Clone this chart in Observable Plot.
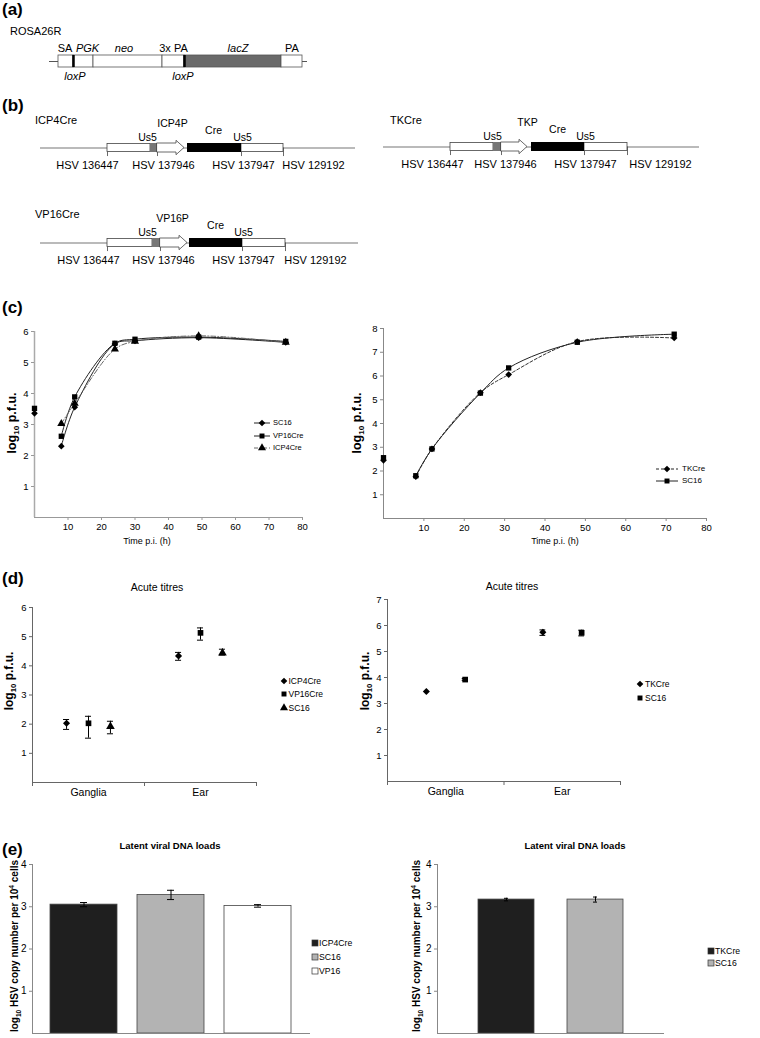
<!DOCTYPE html>
<html><head><meta charset="utf-8">
<script src="https://cdn.jsdelivr.net/npm/d3@7"></script>
<script src="https://cdn.jsdelivr.net/npm/@observablehq/plot@0.6"></script>
<style>
body{margin:0;background:#fff;}
#fig{position:relative;width:760px;height:1038px;overflow:hidden;background:#fff;font-family:"Liberation Sans",Arial,Helvetica,sans-serif;color:#000;}
.t{position:absolute;white-space:nowrap;line-height:1;}
.t sub,.t sup{font-size:0.65em;line-height:0;}
svg{overflow:visible}
</style></head><body><div id="fig"></div>
<script>
// ================= DATA =================
// (a) ROSA26R reporter (schematic units)
const rosaParts = ["SA","PGK","neo","3x PA","lacZ","PA"];
const rosaStart = [0,15,35,104,126,223];
const rosaEnd   = [15,35,104,126,223,244];
const rosaLabelX = [6.5,29,65.5,115,179.5,233.5];
const loxPSites = [15,126];
const loxPLabelX = [16.5,124.5];
const rosaBackbone = [-9,249];

// (b) HSV Cre constructs (schematic units)
const constructNames = ["ICP4Cre","TKCre","VP16Cre"];
const promoterNames = ["ICP4P","TKP","VP16P"];
const backbone = [[-67,248],[-67,249],[-67,251]];
const flankLeft = [[0,43],[0,43],[0,45]];
const us5Insert = [[43,50],[43,51],[45,53]];
const promoterArrow = [[50,77],[51,77],[53,80]];
const creGene = [[80,134],[81,134],[82,135]];
const flankRight = [[134,176],[134,177],[135,178]];
const junctionLabels = ["HSV 136447","HSV 137946","HSV 137947","HSV 129192"];
const junctionLabelX = [[-20,56,136,206],[-18,55,135,210],[-19,56,136,208]];
const promoterLabelX = [65,77,65];
const creLabelX = [106,107,108];
const us5LabelX = [[40,135],[42,135],[40,136]];

// (c) growth curves, log10 p.f.u.
const timesL = [0,8,12,24,30,49,75];
const growthSeriesL = ["SC16","VP16Cre","ICP4Cre"];
const sc16GrowthL   = [3.36,2.30,3.56,5.60,5.70,5.80,5.65];
const vp16GrowthL   = [3.52,2.62,3.89,5.62,5.75,5.82,5.68];
const icp4GrowthL   = [null,3.03,3.68,5.43,5.68,5.86,5.65];
const timesR = [0,8,12,24,31,48,72];
const growthSeriesR = ["TKCre","SC16"];
const tkGrowthR   = [2.45,1.76,2.93,5.30,6.06,7.45,7.60];
const sc16GrowthR = [2.56,1.80,2.93,5.28,6.34,7.42,7.76];

// (d) acute titres
const sites = ["Ganglia","Ear"];
const acuteSeriesL = ["ICP4Cre","VP16Cre","SC16"];
const acuteMeanL = [[2.03,4.34],[2.03,5.13],[1.92,4.44]];
const acuteLoL   = [[1.82,4.19],[1.52,4.88],[1.67,4.37]];
const acuteHiL   = [[2.16,4.46],[2.27,5.30],[2.10,4.57]];
const acuteSeriesR = ["TKCre","SC16"];
const acuteMeanR = [[3.46,5.74],[3.92,5.72]];
const acuteLoR   = [[3.46,5.62],[3.89,5.60]];
const acuteHiR   = [[3.46,5.83],[3.96,5.82]];

// (e) latent viral DNA loads
const latentNamesL = ["ICP4Cre","SC16","VP16"];
const latentMeanL  = [3.05,3.28,3.02];
const latentErrL   = [0.05,0.11,0.03];
const latentNamesR = ["TKCre","SC16"];
const latentMeanR  = [3.17,3.17];
const latentErrR   = [0.03,0.06];

// ================= HELPERS =================
const FONT = '"Liberation Sans", Arial, Helvetica, sans-serif';
const fig = document.getElementById("fig");
const intFmt = d => String(d);
function txt(html, x, y, {size=11, bold=false, italic=false, anchor="start", rotate=false}={}) {
  const d = document.createElement("div");
  d.className = "t";
  d.innerHTML = html;
  d.style.fontSize = size + "px";
  if (bold) d.style.fontWeight = "bold";
  if (italic) d.style.fontStyle = "italic";
  d.style.left = x + "px"; d.style.top = y + "px";
  const tx = anchor === "middle" ? "-50%" : anchor === "end" ? "-100%" : "0";
  d.style.transform = rotate ? "translate(-50%,-50%) rotate(-90deg)" : `translate(${tx},-50%)`;
  fig.appendChild(d);
}
function put(svg, left, top) {
  svg.style.position = "absolute"; svg.style.left = left + "px"; svg.style.top = top + "px";
  fig.appendChild(svg);
}
const symMap = {diamond2: d3.symbolDiamond2, square: d3.symbolSquare, triangle: d3.symbolTriangle};
function legendRow(cx, cy, label, {symbol=null, r=3, lineLen=0, dash=null, lineColor="#222", swatch=null, size=8, gap=1}={}) {
  const w = lineLen || 8;
  const svg = d3.create("svg").attr("width", w).attr("height", 10)
    .style("position","absolute").style("left",(cx - w/2)+"px").style("top",(cy-5)+"px").style("overflow","visible");
  if (lineLen) svg.append("line").attr("x1",0).attr("x2",lineLen).attr("y1",5).attr("y2",5)
    .attr("stroke",lineColor).attr("stroke-width",1).attr("stroke-dasharray",dash);
  if (symbol) svg.append("path").attr("transform",`translate(${w/2},5)`)
    .attr("d", d3.symbol(symMap[symbol], Math.PI*r*r)()).attr("fill","black");
  if (swatch) svg.append("rect").attr("x",w/2-3).attr("y",2).attr("width",6).attr("height",6)
    .attr("fill",swatch).attr("stroke","#333").attr("stroke-width",0.7);
  fig.appendChild(svg.node());
  txt(label, cx + w/2 + gap, cy, {size});
}
const baseStyle = {fontFamily: FONT, fontSize: "9.5px", overflow: "visible", background: "transparent"};

// ================= (a) =================
txt("(a)", 2, 9, {size:17, bold:true});
txt("ROSA26R", 10, 31, {size:11});
{
  const rosa = rosaParts.map((p,i) => ({part:p, start:rosaStart[i], end:rosaEnd[i], lx:rosaLabelX[i]}));
  const italicParts = new Set(["PGK","neo","lacZ"]);
  const W = 330, ML = 58, H = 50, MT = 15, BH = 12;
  const span = rosaEnd[rosaEnd.length-1] - rosaStart[0];
  put(Plot.plot({
    width: W, height: H, marginLeft: ML, marginRight: W - ML - span, marginTop: MT, marginBottom: H - MT - BH,
    x: {domain: [rosaStart[0], rosaEnd[rosaEnd.length-1]], axis: null},
    y: {domain: [0,1], axis: null},
    style: baseStyle,
    marks: [
      Plot.ruleY([0.5], {x1: () => rosaBackbone[0], x2: () => rosaBackbone[1], stroke: "#555", strokeWidth: 1}),
      Plot.rect(rosa, {x1: "start", x2: "end", y1: () => 0, y2: () => 1,
        fill: d => d.part === "lacZ" ? "#6a6a6a" : "white", stroke: "#555", strokeWidth: 0.8}),
      Plot.ruleX(loxPSites, {y1: () => 0, y2: () => 1, stroke: "black", strokeWidth: 2.5}),
      Plot.text(rosa.filter(d => !italicParts.has(d.part)), {x: "lx", y: () => 1, text: "part", dy: -7, fontSize: 11}),
      Plot.text(rosa.filter(d => italicParts.has(d.part)), {x: "lx", y: () => 1, text: "part", dy: -7, fontSize: 11, fontStyle: "italic"}),
      Plot.text(loxPLabelX, {x: d => d, y: () => 0, text: () => "loxP", dy: 9, fontSize: 11, fontStyle: "italic"})
    ]
  }), 0, 40);
}

// ================= (b) =================
txt("(b)", 2, 105, {size:17, bold:true});
function drawConstruct(i, left, boxTop) {
  const bb = backbone[i];
  const W = 380, ML = 40, H = 80, MT = 40, BH = 9;
  const [p0, p1] = promoterArrow[i];
  const head = 8;
  const arrow = [
    {x: p0, y1: 0, y2: 1}, {x: p1 - head, y1: 0, y2: 1},
    {x: p1 - head, y1: -0.3, y2: 1.3}, {x: p1, y1: 0.5, y2: 0.5}
  ];
  const junctions = [flankLeft[i][0], us5Insert[i][1], creGene[i][1], flankRight[i][1]];
  put(Plot.plot({
    width: W, height: H, marginLeft: ML, marginRight: W - ML - (bb[1]-bb[0]), marginTop: MT, marginBottom: H - MT - BH,
    x: {domain: bb, axis: null}, y: {domain: [0,1], axis: null},
    style: baseStyle,
    marks: [
      Plot.ruleY([0.5], {x1: () => bb[0], x2: () => bb[1], stroke: "#777", strokeWidth: 1.2}),
      Plot.ruleX(junctions, {y1: () => -0.45, y2: () => 0.5, stroke: "#444", strokeWidth: 0.8}),
      Plot.rect([flankLeft[i], flankRight[i]], {x1: d => d[0], x2: d => d[1], y1: () => 0.05, y2: () => 0.95, fill: "white", stroke: "#444", strokeWidth: 0.8}),
      Plot.rect([us5Insert[i]], {x1: d => d[0], x2: d => d[1], y1: () => 0, y2: () => 1, fill: "#777"}),
      Plot.area(arrow, {x1: "x", y1: "y1", y2: "y2", fill: "white", stroke: "#444", strokeWidth: 0.8}),
      Plot.rect([creGene[i]], {x1: d => d[0], x2: d => d[1], y1: () => 0, y2: () => 1, fill: "black"}),
      Plot.text(junctionLabels, {x: (d,j) => junctionLabelX[i][j], y: () => 0, dy: 13, fontSize: 11}),
      Plot.text([promoterNames[i]], {x: () => promoterLabelX[i], y: () => 1, dy: -20, fontSize: 10.5}),
      Plot.text(["Cre"], {x: () => creLabelX[i], y: () => 1, dy: -13, fontSize: 10.5}),
      Plot.text(["Us5","Us5"], {x: (d,j) => us5LabelX[i][j], y: () => 1, dy: -6, fontSize: 10.5})
    ]
  }), left, boxTop - MT);
}
txt(constructNames[0], 35, 120, {size:11});
drawConstruct(0, 0, 143);
txt(constructNames[1], 390, 120, {size:11});
drawConstruct(1, 343, 142);
txt(constructNames[2], 35, 214, {size:11});
drawConstruct(2, 0, 238);

// ================= (c) =================
txt("(c)", 2, 307, {size:17, bold:true});
function growthRows(series, times, vals) {
  return series.flatMap((s,i) => times.map((t,j) => ({series: s, t, v: vals[i][j]}))).filter(d => d.v != null);
}
{
  const rows = growthRows(growthSeriesL, timesL, [sc16GrowthL, vp16GrowthL, icp4GrowthL]);
  const lineStyle = {SC16: {stroke: "#222"}, VP16Cre: {stroke: "#222"}, ICP4Cre: {stroke: "#666", strokeDasharray: "5,2,1,2"}};
  put(Plot.plot({
    width: 330, height: 260, marginLeft: 34, marginRight: 28, marginTop: 31, marginBottom: 43,
    x: {domain: [0,80]}, y: {domain: [0,6]},
    symbol: {domain: growthSeriesL, range: ["diamond2","square","triangle"]},
    style: baseStyle,
    marks: [
      Plot.ruleX([0], {stroke: "#aaa", strokeWidth: 1.5}),
      Plot.ruleY([0], {stroke: "#999"}),
      Plot.axisY({ticks: d3.range(1,7), tickFormat: intFmt, tickSize: 3, tickPadding: 3, stroke: "#999", label: null, fontSize: 9.5}),
      Plot.axisX({ticks: d3.range(10,81,10), tickFormat: intFmt, tickSize: 3, tickPadding: 3, stroke: "#999", label: null, fontSize: 9.5}),
      ...growthSeriesL.map(s => Plot.line(rows.filter(d => d.series === s && d.t > 0),
        {x: "t", y: "v", curve: "catmull-rom", strokeWidth: 1, ...lineStyle[s]})),
      Plot.dot(rows, {x: "t", y: "v", symbol: "series", fill: "black", r: 3})
    ]
  }), 0, 300);
  txt("Time p.i. (h)", 147, 541, {size:9, anchor:"middle"});
  txt("log<sub>10</sub> p.f.u.", 12, 423, {size:12.5, bold:true, rotate:true});
  legendRow(262, 423, "SC16", {symbol:"diamond2", lineLen:16, size:7.5, gap:3});
  legendRow(262, 436, "VP16Cre", {symbol:"square", r:2.8, lineLen:16, size:7.5, gap:3});
  legendRow(262, 448, "ICP4Cre", {symbol:"triangle", lineLen:16, dash:"4,2,1,2", lineColor:"#666", size:7.5, gap:3});
}
{
  const rows = growthRows(growthSeriesR, timesR, [tkGrowthR, sc16GrowthR]);
  const lineStyle = {TKCre: {stroke: "#333", strokeDasharray: "3,2"}, SC16: {stroke: "#222"}};
  put(Plot.plot({
    width: 380, height: 260, marginLeft: 33, marginRight: 24, marginTop: 28, marginBottom: 42,
    x: {domain: [0,80]}, y: {domain: [0,8]},
    symbol: {domain: growthSeriesR, range: ["diamond2","square"]},
    style: baseStyle,
    marks: [
      Plot.ruleX([0], {stroke: "#888", strokeWidth: 1}),
      Plot.ruleY([0], {stroke: "#888"}),
      Plot.axisY({ticks: d3.range(1,9), tickFormat: intFmt, tickSize: 3, tickPadding: 3, stroke: "#888", label: null, fontSize: 9.5}),
      Plot.axisX({ticks: d3.range(10,81,10), tickFormat: intFmt, tickSize: 3, tickPadding: 3, stroke: "#888", label: null, fontSize: 9.5}),
      ...growthSeriesR.map(s => Plot.line(rows.filter(d => d.series === s && d.t > 0),
        {x: "t", y: "v", curve: "catmull-rom", strokeWidth: 1, ...lineStyle[s]})),
      Plot.dot(rows, {x: "t", y: "v", symbol: "series", fill: "black", r: 3})
    ]
  }), 350, 300);
  txt("Time p.i. (h)", 555, 541, {size:9, anchor:"middle"});
  txt("log<sub>10</sub> p.f.u.", 357, 423, {size:12.5, bold:true, rotate:true});
  legendRow(667, 469, "TKCre", {symbol:"diamond2", lineLen:22, dash:"3,2", size:8, gap:4});
  legendRow(667, 481, "SC16", {symbol:"square", r:2.8, lineLen:22, size:8, gap:4});
}

// ================= (d) =================
txt("(d)", 2, 578, {size:17, bold:true});
function acuteRows(series, mean, lo, hi) {
  return series.flatMap((s,i) => sites.map((site,j) => ({series: s, si: i, site, ci: j, v: mean[i][j], lo: lo[i][j], hi: hi[i][j]})));
}
function acutePlot({series, mean, lo, hi, yMax, spread, symbols, width, ml, mr, mt, mb, cap}) {
  const rows = acuteRows(series, mean, lo, hi);
  const n = series.length;
  const xp = d => d.ci + 0.5 + (d.si - (n-1)/2) * spread;
  const withErr = rows.filter(d => d.hi > d.lo);
  return Plot.plot({
    width, height: 220, marginLeft: ml, marginRight: mr, marginTop: mt, marginBottom: mb,
    x: {domain: [0, sites.length]}, y: {domain: [0, yMax]},
    symbol: {domain: series, range: symbols},
    style: baseStyle,
    marks: [
      Plot.ruleX([0], {stroke: "#666"}),
      Plot.ruleY([0], {stroke: "#666"}),
      Plot.axisY({ticks: d3.range(1, yMax+1), tickFormat: intFmt, tickSize: 3, tickPadding: 3, stroke: "#666", label: null, fontSize: 9.5}),
      Plot.axisX({ticks: d3.range(0, sites.length+1), tickSize: 4, tickFormat: () => "", stroke: "#666", label: null}),
      Plot.text(sites, {x: (d,i) => i + 0.5, y: () => 0, dy: 10, fontSize: 10.5}),
      Plot.ruleX(withErr, {x: xp, y1: "lo", y2: "hi", stroke: "black", strokeWidth: 1}),
      Plot.ruleY(withErr, {y: "lo", x1: d => xp(d) - cap, x2: d => xp(d) + cap, stroke: "black"}),
      Plot.ruleY(withErr, {y: "hi", x1: d => xp(d) - cap, x2: d => xp(d) + cap, stroke: "black"}),
      Plot.dot(rows, {x: xp, y: "v", symbol: "series", fill: "black", r: 3.2})
    ]
  });
}
put(acutePlot({series: acuteSeriesL, mean: acuteMeanL, lo: acuteLoL, hi: acuteHiL, yMax: 6, spread: 0.196,
  symbols: ["diamond2","square","triangle"], width: 300, ml: 32, mr: 44, mt: 17, mb: 28, cap: 0.027}), 0, 590);
put(acutePlot({series: acuteSeriesR, mean: acuteMeanR, lo: acuteLoR, hi: acuteHiR, yMax: 7, spread: 0.333,
  symbols: ["diamond2","square"], width: 300, ml: 37, mr: 30, mt: 9, mb: 29, cap: 0.025}), 350, 590);
txt("Acute titres", 157, 587, {size:10.5, anchor:"middle"});
txt("Acute titres", 512, 586, {size:10.5, anchor:"middle"});
txt("log<sub>10</sub> p.f.u.", 9, 681, {size:12, bold:true, rotate:true});
txt("log<sub>10</sub> p.f.u.", 365, 681, {size:12, bold:true, rotate:true});
legendRow(284, 681, "ICP4Cre", {symbol:"diamond2", size:8.5, gap:0.5});
legendRow(284, 694, "VP16Cre", {symbol:"square", r:2.8, size:8.5, gap:0.5});
legendRow(284, 708, "SC16", {symbol:"triangle", size:8.5, gap:0.5});
legendRow(640, 684, "TKCre", {symbol:"diamond2", size:8.5, gap:1});
legendRow(640, 698, "SC16", {symbol:"square", r:2.8, size:8.5, gap:1});

// ================= (e) =================
txt("(e)", 2, 849, {size:17, bold:true});
function latentPlot({names, mean, err, colors, width, ml, mr, pi, po}) {
  const rows = names.map((nm,i) => ({name: nm, v: mean[i], lo: mean[i] - err[i], hi: mean[i] + err[i]}));
  return Plot.plot({
    width, height: 183, marginLeft: ml, marginRight: mr, marginTop: 9, marginBottom: 5,
    x: {domain: names, paddingInner: pi, paddingOuter: po, axis: null},
    y: {domain: [0,4]},
    color: {domain: names, range: colors},
    style: baseStyle,
    marks: [
      Plot.barY(rows, {x: "name", y: "v", fill: "name", stroke: "#444", strokeWidth: 0.8}),
      Plot.ruleX(rows, {x: "name", y1: "lo", y2: "hi", stroke: "black"}),
      Plot.tickY(rows, {x: "name", y: "lo", stroke: "black", insetLeft: 30, insetRight: 30}),
      Plot.tickY(rows, {x: "name", y: "hi", stroke: "black", insetLeft: 30, insetRight: 30}),
      Plot.frame({anchor: "left", stroke: "#888"}),
      Plot.ruleY([0], {stroke: "#888"}),
      Plot.axisY({ticks: d3.range(1,5), tickFormat: intFmt, tickSize: 3, tickPadding: 3, stroke: "#888", label: null, fontSize: 10})
    ]
  });
}
put(latentPlot({names: latentNamesL, mean: latentMeanL, err: latentErrL, colors: ["#1f1f1f","#b3b3b3","#ffffff"],
  width: 320, ml: 32, mr: 10, pi: 0.225, po: 0.2}), 0, 855);
put(latentPlot({names: latentNamesR, mean: latentMeanR, err: latentErrR, colors: ["#1f1f1f","#b3b3b3"],
  width: 290, ml: 57, mr: 6, pi: 0.37, po: 0.455}), 380, 855);
txt("Latent viral DNA loads", 170, 846, {size:9.5, bold:true, anchor:"middle"});
txt("Latent viral DNA loads", 575, 846, {size:9.5, bold:true, anchor:"middle"});
txt("log<sub>10</sub> HSV copy number per 10<sup>4</sup> cells", 15, 946, {size:10, bold:true, rotate:true});
txt("log<sub>10</sub> HSV copy number per 10<sup>4</sup> cells", 417, 946, {size:10, bold:true, rotate:true});
legendRow(315, 943, "ICP4Cre", {swatch:"#1f1f1f", size:8.7, gap:0});
legendRow(315, 957, "SC16", {swatch:"#b3b3b3", size:8.7, gap:0});
legendRow(315, 971, "VP16", {swatch:"#ffffff", size:8.7, gap:0});
legendRow(711, 951, "TKCre", {swatch:"#1f1f1f", size:8.7, gap:0});
legendRow(711, 963, "SC16", {swatch:"#b3b3b3", size:8.7, gap:0});
</script></body></html>
